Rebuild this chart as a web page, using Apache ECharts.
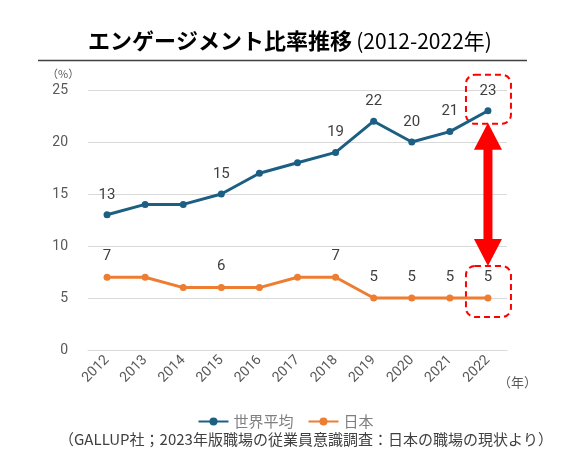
<!DOCTYPE html>
<html>
<head>
<meta charset="utf-8">
<script src="https://cdn.jsdelivr.net/npm/echarts@6/dist/echarts.min.js"></script>
<style>
html,body{margin:0;padding:0;background:#fff;}
#c{width:571px;height:454px;}
</style>
</head>
<body>
<div id="c"></div>
<script>
const years = ['2012','2013','2014','2015','2016','2017','2018','2019','2020','2021','2022'];
const worldAvg = [13,14,14,15,17,18,19,22,20,21,23];
const japan = [7,7,6,6,6,7,7,5,5,5,5];
const labeledIdx = [0,3,6,7,8,9,10];
const yTicks = [0,5,10,15,20,25];

const FONT = '"Noto Sans CJK JP", "Noto Sans", sans-serif';
const chart = echarts.init(document.getElementById('c'));

function mk(vals){
  return vals.map((v,i)=>({value:v, label:{show: labeledIdx.indexOf(i)>=0}}));
}

const option = {
  animation:false,
  textStyle:{fontFamily:FONT},
  title:{
    text:'{b|エンゲージメント比率推移} {n|(2012-2022年)}',
    left:285, top:25, textAlign:'center',
    textStyle:{
      rich:{
        b:{fontSize:22,fontWeight:'bold',color:'#000',fontFamily:FONT},
        n:{fontSize:21,fontWeight:'normal',color:'#000',fontFamily:FONT}
      }
    }
  },
  grid:{left:88,right:64,top:90,bottom:104},
  legend:{
    data:['世界平均','日本'],
    left:'center', top:409,
    itemWidth:30, itemHeight:10, itemGap:14,
    textStyle:{fontSize:15,color:'#7f7f7f',fontFamily:FONT}
  },
  xAxis:{
    type:'category', data:years, boundaryGap:true,
    axisTick:{show:false},
    axisLine:{lineStyle:{color:'#d9d9d9'}},
    axisLabel:{rotate:45,color:'#595959',fontSize:14,margin:8,fontFamily:'Roboto, sans-serif'}
  },
  yAxis:{
    type:'value', min:yTicks[0], max:yTicks[yTicks.length-1], interval:5,
    axisLine:{show:false}, axisTick:{show:false},
    splitLine:{lineStyle:{color:'#d9d9d9'}},
    axisLabel:{color:'#595959',fontSize:14,margin:20,fontFamily:'Roboto, sans-serif'}
  },
  series:[
    {name:'世界平均',type:'line',data:mk(worldAvg),color:'#1c5f82',
     symbol:'circle',symbolSize:7,lineStyle:{width:3},
     label:{position:'top',distance:9,fontSize:15,color:'#404040',fontFamily:'Roboto, sans-serif'}},
    {name:'日本',type:'line',data:mk(japan),color:'#ed7d31',
     symbol:'circle',symbolSize:7,lineStyle:{width:3},
     label:{position:'top',distance:10,fontSize:15,color:'#404040',fontFamily:'Roboto, sans-serif'}}
  ]
};
chart.setOption(option);

const last = years.length-1;
const pW = chart.convertToPixel({seriesIndex:0}, [last, worldAvg[last]]);
const pJ = chart.convertToPixel({seriesIndex:1}, [last, japan[last]]);
const cx = pW[0];
const topBox = {x:cx-22, y:pW[1]-36, w:45, h:49};
const botBox = {x:cx-22, y:pJ[1]-32, w:45, h:51};
const aTop = topBox.y+topBox.h-1, aBot = botBox.y;
const hw = 14, sw = 4.5, hh = 27;
chart.setOption({
  graphic:[
    {type:'line',shape:{x1:38,y1:60.5,x2:527,y2:60.5},style:{stroke:'#404040',lineWidth:1.5}},
    {type:'text',left:47,top:68,style:{text:'（%）',fill:'#595959',font:'11px '+FONT}},
    {type:'text',left:498,top:376,style:{text:'（年）',fill:'#595959',font:'13px '+FONT}},
    {type:'text',x:306,y:439,style:{text:'（GALLUP社；2023年版職場の従業員意識調査：日本の職場の現状より）',fill:'#404040',font:'15px '+FONT,textAlign:'center',textVerticalAlign:'middle'}},
    {type:'rect',shape:{x:topBox.x,y:topBox.y,width:topBox.w,height:topBox.h,r:9},style:{fill:null,stroke:'#ff0000',lineWidth:2,lineDash:[6,4]}},
    {type:'rect',shape:{x:botBox.x,y:botBox.y,width:botBox.w,height:botBox.h,r:9},style:{fill:null,stroke:'#ff0000',lineWidth:2,lineDash:[6,4]}},
    {type:'polygon',shape:{points:[
      [cx,aTop],[cx+hw,aTop+hh],[cx+sw,aTop+hh],[cx+sw,aBot-hh],[cx+hw,aBot-hh],
      [cx,aBot],[cx-hw,aBot-hh],[cx-sw,aBot-hh],[cx-sw,aTop+hh],[cx-hw,aTop+hh]
    ]},style:{fill:'#ff0000'}}
  ]
});
</script>
</body>
</html>
